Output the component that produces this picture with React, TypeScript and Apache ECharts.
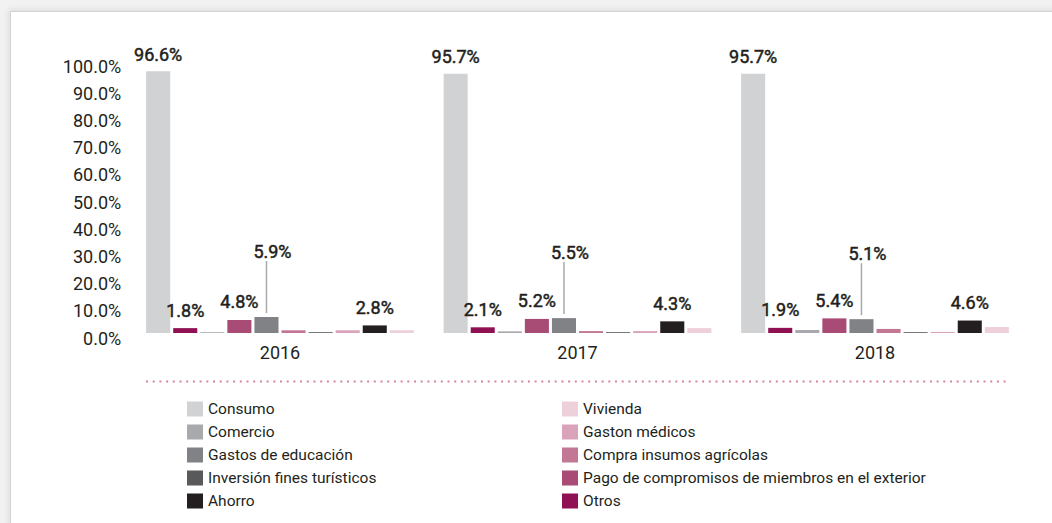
import React, { useEffect, useRef } from "react";
import * as echarts from "echarts";

const years = ["2016", "2017", "2018"];
const yTicks = [0, 10, 20, 30, 40, 50, 60, 70, 80, 90, 100];

const consumo = [96.6, 95.7, 95.7];
const otros = [1.8, 2.1, 1.9];
const comercio = [0.3, 0.6, 1.1];
const pagoCompromisos = [4.8, 5.2, 5.4];
const gastosEducacion = [5.9, 5.5, 5.1];
const compraInsumos = [1.0, 0.7, 1.5];
const inversionTuristicos = [0.3, 0.3, 0.3];
const gastonMedicos = [1.0, 0.7, 0.4];
const ahorro = [2.8, 4.3, 4.6];
const vivienda = [1.0, 1.8, 2.2];

const legendLeft = [
  "Consumo",
  "Comercio",
  "Gastos de educación",
  "Inversión fines turísticos",
  "Ahorro",
];
const legendRight = [
  "Vivienda",
  "Gaston médicos",
  "Compra insumos agrícolas",
  "Pago de compromisos de miembros en el exterior",
  "Otros",
];

const FONT = "Roboto, 'Noto Sans', sans-serif";
const TEXT = "#231f20";

type SeriesDef = {
  name: string;
  data: number[];
  color: string;
  label?: "top" | "consumo" | "leader";
};

const seriesDefs: SeriesDef[] = [
  { name: "Consumo", data: consumo, color: "#d1d2d4", label: "consumo" },
  { name: "Otros", data: otros, color: "#8f1153", label: "top" },
  { name: "Comercio", data: comercio, color: "#a7a9ac" },
  { name: "Pago de compromisos de miembros en el exterior", data: pagoCompromisos, color: "#a84b75", label: "top" },
  { name: "Gastos de educación", data: gastosEducacion, color: "#808285", label: "leader" },
  { name: "Compra insumos agrícolas", data: compraInsumos, color: "#c27795" },
  { name: "Inversión fines turísticos", data: inversionTuristicos, color: "#58595b" },
  { name: "Gaston médicos", data: gastonMedicos, color: "#d9a3b9" },
  { name: "Ahorro", data: ahorro, color: "#231f20", label: "top" },
  { name: "Vivienda", data: vivienda, color: "#eed0db" },
];

const fmt = (v: number) => v.toFixed(1) + "%";

export default function App() {
  const ref = useRef<HTMLDivElement>(null);

  useEffect(() => {
    if (!ref.current) return;
    const chart = echarts.init(ref.current, undefined, { renderer: "svg" });

    const valueText = {
      fontFamily: FONT,
      fontSize: 18,
      fontWeight: "normal",
      lineHeight: 20,
      color: TEXT,
      textBorderColor: TEXT,
      textBorderWidth: 0.5,
    };

    const series = seriesDefs.map((s) => {
      let label: any = { show: false };
      if (s.label === "top" || s.label === "consumo") {
        label = {
          show: true,
          position: "top",
          distance: s.label === "consumo" ? 7 : 8,
          ...valueText,
          formatter: (p: any) => fmt(p.value),
        };
      } else if (s.label === "leader") {
        label = {
          show: true,
          position: "top",
          distance: 4,
          align: "center",
          formatter: (p: any) => "{v|" + fmt(p.value) + "}\n{l|}",
          rich: {
            v: {
              ...valueText,
              padding: [0, 0, 0, 12],
            },
            l: {
              width: 1.5,
              height: 52,
              backgroundColor: "#a7a9ac",
            },
          },
        };
      }
      return {
        name: s.name,
        type: "bar",
        xAxisIndex: 0,
        yAxisIndex: 0,
        data: s.data,
        barGap: "12.5%",
        barCategoryGap: "10%",
        itemStyle: { color: s.color },
        label,
        emphasis: { disabled: true },
      };
    });

    const legendCommon = {
      orient: "vertical",
      padding: 0,
      itemWidth: 16,
      itemHeight: 15,
      itemGap: 7,
      icon: "rect",
      selectedMode: false,
      textStyle: {
        fontFamily: FONT,
        fontSize: 15.5,
        lineHeight: 15,
        color: TEXT,
      },
    };

    chart.setOption({
      animation: false,
      backgroundColor: "transparent",
      grid: [
        { left: 131.25, right: 28.25, top: 62, bottom: 190 },
        { left: 131.25, right: 28.25, top: 66, bottom: 185 },
      ],
      xAxis: [
        {
          type: "category",
          gridIndex: 0,
          data: years,
          axisLine: { show: false },
          axisTick: { show: false },
          axisLabel: {
            margin: 9,
            fontFamily: FONT,
            fontSize: 18,
            lineHeight: 20,
            color: TEXT,
          },
        },
        {
          type: "category",
          gridIndex: 1,
          data: years,
          show: false,
        },
      ],
      yAxis: [
        {
          type: "value",
          gridIndex: 0,
          min: 0,
          max: 100,
          show: false,
          splitLine: { show: false },
        },
        {
          type: "value",
          gridIndex: 1,
          min: yTicks[0],
          max: yTicks[yTicks.length - 1],
          interval: yTicks[1] - yTicks[0],
          axisLine: { show: false },
          axisTick: { show: false },
          splitLine: { show: false },
          axisLabel: {
            margin: 10,
            fontFamily: FONT,
            fontSize: 18,
            color: TEXT,
            formatter: (v: number) => fmt(v),
          },
        },
      ],
      legend: [
        { ...legendCommon, left: 187, top: 401, data: legendLeft },
        { ...legendCommon, left: 562, top: 401, data: legendRight },
      ],
      graphic: [
        {
          type: "line",
          shape: { x1: 146, y1: 381.5, x2: 1010, y2: 381.5 },
          style: {
            stroke: "#d6869f",
            lineWidth: 2.2,
            lineDash: [2, 4.7],
          },
          silent: true,
        },
      ],
      series,
    });

    return () => chart.dispose();
  }, []);

  return (
    <div
      style={{
        position: "fixed",
        left: 0,
        top: 0,
        width: 1052,
        height: 523,
        background: "#f2f2f2",
        overflow: "hidden",
      }}
    >
      <div
        style={{
          position: "absolute",
          left: 10,
          top: 11,
          width: 1060,
          height: 530,
          background: "#ffffff",
          borderTop: "1px solid #d2d2d2",
          borderLeft: "1px solid #d2d2d2",
          boxShadow: "-2px -2px 6px rgba(0,0,0,0.08)",
        }}
      />
      <div
        ref={ref}
        style={{ position: "absolute", left: 0, top: 0, width: 1052, height: 523 }}
      />
    </div>
  );
}
